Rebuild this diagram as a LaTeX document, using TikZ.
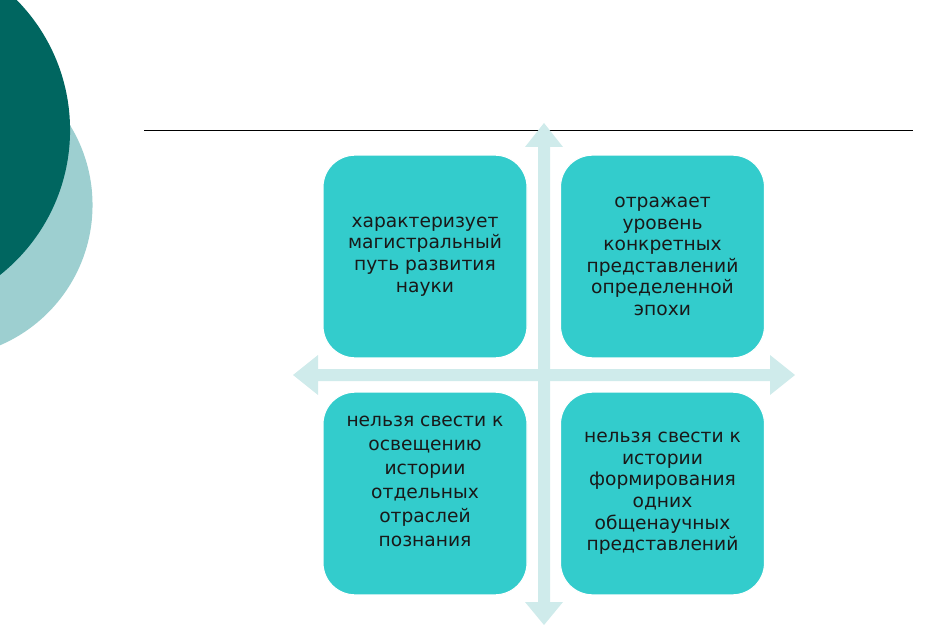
\documentclass[tikz,border=0pt]{standalone}
\usepackage{fontspec}
\newfontfamily\boxfont{DejaVu Sans}
\definecolor{tealdark}{RGB}{0,102,96}
\definecolor{teallight}{RGB}{157,207,208}
\definecolor{boxfill}{RGB}{51,204,204}
\definecolor{arrowfill}{RGB}{207,235,235}
\definecolor{boxtext}{RGB}{25,25,25}
\tikzset{
  card/.style={rectangle, rounded corners=24pt, fill=boxfill, draw=white,
    line width=0.8pt, minimum width=153pt, minimum height=152pt,
    align=center, text=boxtext, font=\boxfont\fontsize{14}{16.2}\selectfont},
  wide card/.style={card, font=\boxfont\fontsize{14}{18}\selectfont,
    text depth=18pt},
}

\begin{document}
\begin{tikzpicture}[x=0.75pt,y=-0.75pt]

\newcommand\AX{544};
\newcommand\AY{375};

  %% page
  \clip (0,0) rectangle (938,627);

  %% circles
  \fill[teallight] (-60,205) circle (114.4pt);
  \fill[tealdark] (-115,130) circle (138.8pt);

  %% title rule
  \draw[line width=0.75pt] (144,131) -- (913,131);

  %% vertical arrow
  \fill[arrowfill] (\AX,123) -- (\AX+19,147) -- (\AX+6,147) -- (\AX+6,602)
  -- (\AX+19,602) -- (\AX,625) -- (\AX-19,602) -- (\AX-6,602)
  -- (\AX-6,147) -- (\AX-19,147) -- cycle;
  %% horizontal arrow
  \fill[arrowfill] (293,\AY) -- (318,\AY-20) -- (318,\AY-6) -- (770,\AY-6)
  -- (770,\AY-20) -- (795,\AY) -- (770,\AY+20) -- (770,\AY+6)
  -- (318,\AY+6) -- (318,\AY+20) -- cycle;

  %% cards
  \node[card] (tl) at (425,256.5) {характеризует\\магистральный\\путь развития\\науки};
  \node[card] (tr) at (662.5,256.5) {отражает\\уровень\\конкретных\\представлений\\определенной\\эпохи};
  \node[wide card] (bl) at (425,493.5) {нельзя свести к\\освещению\\истории\\отдельных\\отраслей\\познания};
  \node[card] (br) at (662.5,493.5) {нельзя свести к\\истории\\формирования\\одних\\общенаучных\\представлений};

\end{tikzpicture}
\end{document}
